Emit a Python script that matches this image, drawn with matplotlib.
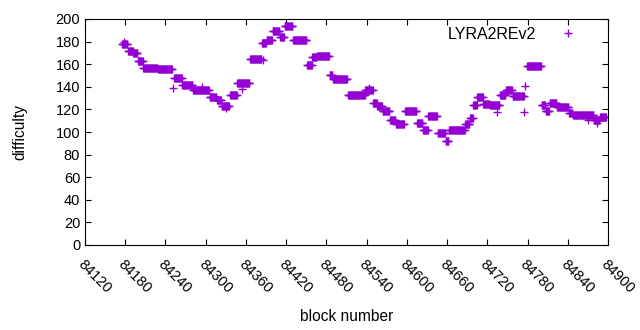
import numpy as np
import matplotlib
matplotlib.use("Agg")
import matplotlib.pyplot as plt

plt.rcParams['font.family'] = ['Liberation Sans', 'DejaVu Sans']

# runs of blocks with the same difficulty: first block, last block, difficulty
seg_first = [84175, 84184, 84192, 84199, 84207, 84229, 84253, 84265, 84281, 84306,
             84317, 84324, 84336, 84347, 84366, 84384, 84391, 84400, 84411, 84418,
             84430, 84451, 84459, 84466, 84485, 84490, 84512, 84538, 84550, 84556,
             84564, 84575, 84584, 84597, 84615, 84624, 84632, 84646, 84658, 84663,
             84687, 84694, 84699, 84705, 84714, 84724, 84739, 84748, 84758, 84779,
             84801, 84807, 84813, 84824, 84842, 84848, 84863, 84879, 84888]
seg_last = [84183, 84191, 84198, 84206, 84228, 84250, 84264, 84280, 84305, 84316,
            84323, 84335, 84346, 84365, 84383, 84390, 84399, 84410, 84417, 84429,
            84450, 84458, 84465, 84484, 84489, 84511, 84537, 84549, 84555, 84563,
            84574, 84583, 84596, 84614, 84623, 84631, 84645, 84657, 84662, 84686,
            84693, 84698, 84704, 84713, 84723, 84738, 84747, 84757, 84774, 84800,
            84806, 84812, 84823, 84841, 84847, 84862, 84878, 84887, 84897]
seg_diff = [178, 172, 170, 163, 157, 156, 148, 142, 137, 131,
            128, 123, 133, 143, 165, 179, 181, 189, 184, 194,
            181, 159, 166, 167, 150, 147, 133, 137, 126, 123,
            119, 111, 107, 119, 108, 102, 114, 99, 92, 102,
            107, 112, 124, 131, 125, 124, 133, 137, 132, 158,
            124, 119, 126, 122, 117, 115, 115, 111, 113]

# odd single blocks
odd_blocks = [84178, 84251, 84354, 84331, 84295, 84385, 84544, 84735, 84775, 84776, 84870, 84884]
odd_diff = [180, 139, 138, 121, 140, 164, 139, 118, 118, 141, 111, 108]

blocks = []
diffs = []
for a, b, d in zip(seg_first, seg_last, seg_diff):
    for n in range(a, b + 1):
        blocks.append(n)
        diffs.append(d)
blocks += odd_blocks
diffs += odd_diff

fig = plt.figure(figsize=(6.4, 3.3), dpi=100)
ax = fig.add_axes([85 / 640, 85 / 330, 523 / 640, 226 / 330])

ax.plot(blocks, diffs, '+', color='#9400d3', markersize=5.5, markeredgewidth=1.0,
        label='LYRA2REv2')

ax.set_xlim(84120, 84900)
ax.set_ylim(0, 200)
ax.set_xticks(np.arange(84120, 84901, 60))
ax.set_yticks(np.arange(0, 201, 20))
ax.tick_params(direction='in', top=True, right=True, length=4, labelsize=10.5, width=0.8)
for lab in ax.get_xticklabels():
    lab.set_rotation(-45)
    lab.set_ha('left')
    lab.set_va('top')
    lab.set_rotation_mode('anchor')
ax.tick_params(axis='x', pad=9)

ax.set_xlabel('block number', fontsize=11.2, labelpad=9)
ax.set_ylabel('difficulty', fontsize=11.2, labelpad=20)

ax.legend(loc='upper right', markerfirst=False, frameon=False, fontsize=11.5,
          handlelength=2.4, borderaxespad=0.1, bbox_to_anchor=(0.975, 1.0))

fig.savefig('out.png', dpi=100)
